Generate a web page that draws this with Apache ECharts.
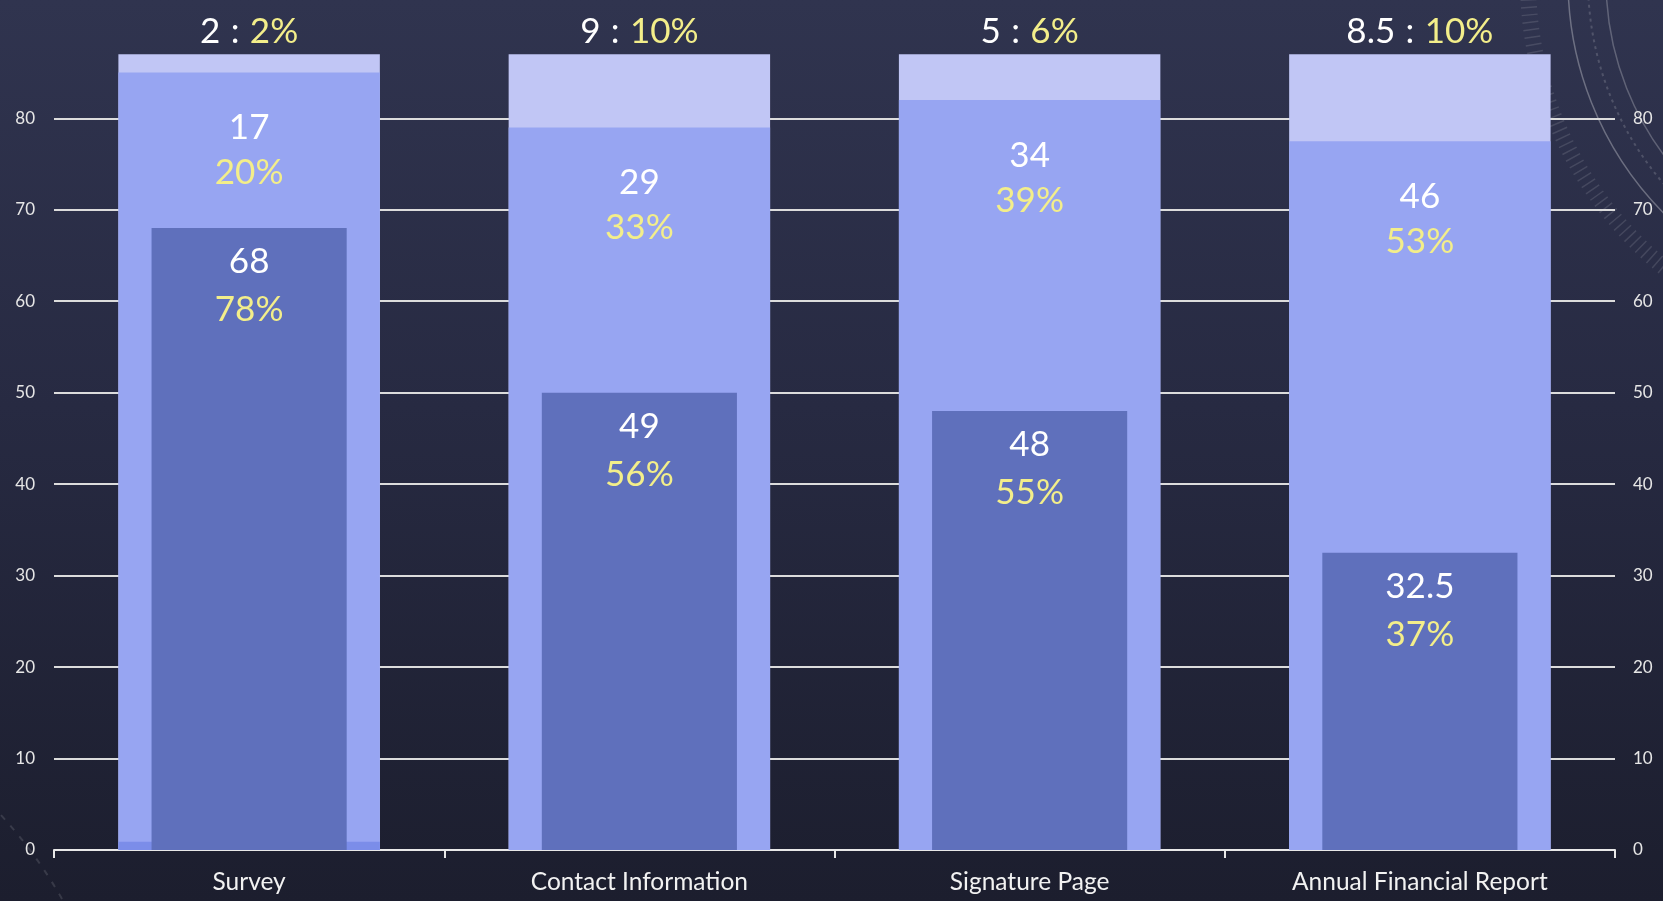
<!DOCTYPE html>
<html>
<head>
<meta charset="utf-8">
<script src="https://cdn.jsdelivr.net/npm/echarts@6/dist/echarts.min.js"></script>
<style>
  html, body { margin: 0; padding: 0; width: 1663px; height: 901px; overflow: hidden;
    background: linear-gradient(180deg, #30344f 0%, #272a42 45%, #1c1e2e 100%); }
  #chart { width: 1663px; height: 901px; }
</style>
</head>
<body>
<div id="chart"></div>
<script>
// ---- data ----
const categories = ['Survey', 'Contact Information', 'Signature Page', 'Annual Financial Report'];
// bar heights
const totalBar   = [87, 87, 87, 87];
const middleTop  = [85, 79, 82, 77.5];
const baseStrip  = [0.9, 0, 0, 0];
const innerBar   = [68, 50, 48, 32.5];
// label texts
const innerLabel  = ['68', '49', '48', '32.5'];
const innerPct    = ['78%', '56%', '55%', '37%'];
const middleLabel = ['17', '29', '34', '46'];
const middlePct   = ['20%', '33%', '39%', '53%'];
const topLabel    = ['2', '9', '5', '8.5'];
const topPct      = ['2%', '10%', '6%', '10%'];
const yTicks = [0, 10, 20, 30, 40, 50, 60, 70, 80];

const FONT = 'Lato, "Open Sans", sans-serif';
const WHITE = '#ffffff';
const YELLOW = '#f3ee8a';

const chart = echarts.init(document.getElementById('chart'), null, { renderer: 'canvas' });

const yAxisCommon = {
  type: 'value', min: 0, max: 87, interval: 10,
  axisLine: { show: false }, axisTick: { show: false },
  axisLabel: { color: '#e6e6e6', fontSize: 17, fontFamily: FONT, showMaxLabel: false,
    formatter: v => (yTicks.indexOf(v) >= 0 ? String(v) : '') }
};

const option = {
  backgroundColor: 'transparent',
  animation: false,
  graphic: [
    { type: 'circle', shape: { cx: 1900, cy: -20, r: 332 }, style: { fill: 'none', stroke: 'rgba(255,255,255,0.30)', lineWidth: 1.5 }, silent: true, z: -10 },
    { type: 'circle', shape: { cx: 1900, cy: -20, r: 294 }, style: { fill: 'none', stroke: 'rgba(255,255,255,0.24)', lineWidth: 1.5 }, silent: true, z: -10 },
    { type: 'circle', shape: { cx: 1900, cy: -20, r: 372 }, style: { fill: 'none', stroke: 'rgba(255,255,255,0.12)', lineWidth: 16, lineDash: [1.5, 6] }, silent: true, z: -10 },
    { type: 'circle', shape: { cx: 1900, cy: -20, r: 312 }, style: { fill: 'none', stroke: 'rgba(255,255,255,0.16)', lineWidth: 2, lineDash: [3, 4] }, silent: true, z: -10 },
    { type: 'circle', shape: { cx: -330, cy: 1120, r: 390 }, style: { fill: 'none', stroke: 'rgba(255,255,255,0.18)', lineWidth: 1.5 }, silent: true, z: -10 },
    { type: 'circle', shape: { cx: -330, cy: 1120, r: 450 }, style: { fill: 'none', stroke: 'rgba(255,255,255,0.12)', lineWidth: 2, lineDash: [6, 8] }, silent: true, z: -10 }
  ],
  grid: { left: 54, right: 48, top: 54.3, bottom: 51, containLabel: false, outerBoundsMode: 'none' },
  xAxis: [
    {
      type: 'category', data: categories, position: 'bottom',
      axisLine: { show: true, lineStyle: { color: '#e8e8e8', width: 2 } },
      axisTick: { show: true, alignWithLabel: false, length: 8, lineStyle: { color: '#e8e8e8', width: 2 } },
      axisLabel: { color: '#f2f2f2', fontSize: 24.5, fontFamily: FONT, margin: 20 },
      splitLine: { show: false }
    },
    { type: 'category', data: categories, show: false }
  ],
  yAxis: [
    Object.assign({}, yAxisCommon, {
      position: 'left',
      axisLabel: Object.assign({}, yAxisCommon.axisLabel, { margin: 19 }),
      splitLine: { show: true, showMaxLine: false, lineStyle: { color: '#dcdcdc', width: 2 } }
    }),
    Object.assign({}, yAxisCommon, {
      position: 'right',
      axisLabel: Object.assign({}, yAxisCommon.axisLabel, { margin: 18 }),
      splitLine: { show: false }
    })
  ],
  series: [
    {
      name: 'total', type: 'bar', xAxisIndex: 0, yAxisIndex: 0,
      data: totalBar, barWidth: '67%', barGap: '-100%',
      itemStyle: { color: '#c1c6f5' },
      label: {
        show: true, position: 'top', distance: 3,
        formatter: p => '{v|' + topLabel[p.dataIndex] + '}{c|\u2009:\u2009}{p|' + topPct[p.dataIndex] + '}',
        rich: {
          v: { color: WHITE, fontSize: 35, fontFamily: FONT, lineHeight: 40 },
          c: { color: WHITE, fontSize: 35, fontFamily: FONT, lineHeight: 40, padding: [0, 6, 0, 6] },
          p: { color: YELLOW, fontSize: 35, fontFamily: FONT, lineHeight: 40 }
        }
      }
    },
    {
      name: 'middle', type: 'bar', xAxisIndex: 0, yAxisIndex: 0,
      data: middleTop, barWidth: '67%', barGap: '-100%',
      itemStyle: { color: '#97a5f2' },
      label: {
        show: true, position: 'insideTop', distance: 33,
        formatter: p => '{v|' + middleLabel[p.dataIndex] + '}\n{p|' + middlePct[p.dataIndex] + '}',
        rich: {
          v: { color: WHITE, fontSize: 35, fontFamily: FONT, lineHeight: 45, align: 'center' },
          p: { color: YELLOW, fontSize: 35, fontFamily: FONT, lineHeight: 45, align: 'center' }
        }
      }
    },
    {
      name: 'base', type: 'bar', xAxisIndex: 0, yAxisIndex: 0,
      data: baseStrip, barWidth: '67%', barGap: '-100%',
      itemStyle: { color: '#7b8de9' }
    },
    {
      name: 'inner', type: 'bar', xAxisIndex: 1, yAxisIndex: 0,
      data: innerBar, barWidth: '50%',
      itemStyle: { color: '#5f70bc' },
      label: {
        show: true, position: 'insideTop', distance: 10,
        formatter: p => '{v|' + innerLabel[p.dataIndex] + '}\n{p|' + innerPct[p.dataIndex] + '}',
        rich: {
          v: { color: WHITE, fontSize: 35, fontFamily: FONT, lineHeight: 48, align: 'center' },
          p: { color: YELLOW, fontSize: 35, fontFamily: FONT, lineHeight: 48, align: 'center' }
        }
      }
    }
  ]
};
chart.setOption(option);
</script>
</body>
</html>
